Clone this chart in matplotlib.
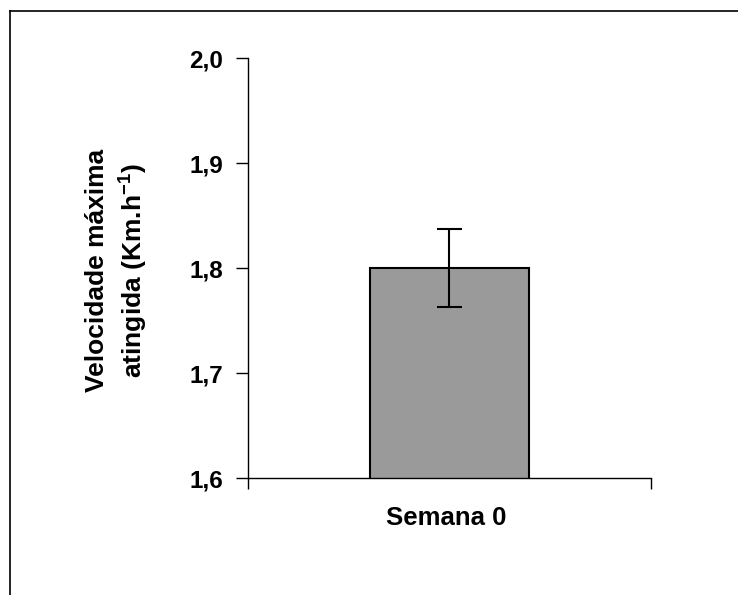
import matplotlib
matplotlib.use("Agg")
import matplotlib.pyplot as plt
from matplotlib.lines import Line2D

plt.rcParams["font.family"] = ["Liberation Sans", "DejaVu Sans"]
plt.rcParams["font.weight"] = "bold"
plt.rcParams["mathtext.fontset"] = "custom"
plt.rcParams["mathtext.rm"] = "Liberation Sans:bold"
plt.rcParams["mathtext.bf"] = "Liberation Sans:bold"

categories = ["Semana 0"]
means = [1.80]
errors = [0.037]
yticks = [1.6, 1.7, 1.8, 1.9, 2.0]
ytick_labels = ["1,6", "1,7", "1,8", "1,9", "2,0"]

fig = plt.figure(figsize=(7.38, 5.95), dpi=100)
ax = fig.add_axes([0.336, 0.1966, 0.546, 0.7059])

ax.bar([0], means, width=0.395, bottom=0, color="#9a9a9a", edgecolor="black", lw=1.5, zorder=2)
ax.errorbar([0], means, yerr=errors, fmt="none", ecolor="black", elinewidth=1.5, capsize=9, capthick=1.5, zorder=3)

ax.set_xlim(-0.5, 0.5)
ax.set_ylim(1.6, 2.0)
ax.set_yticks(yticks)
ax.set_yticklabels(ytick_labels, fontsize=17.5, fontweight="bold")
ax.tick_params(axis="y", direction="out", length=9, width=1, pad=9)
ax.set_xticks([-0.5, 0.5])
ax.set_xticklabels([])
ax.tick_params(axis="x", direction="out", length=8, width=1)
for s in ["top", "right"]:
    ax.spines[s].set_visible(False)
for s in ["left", "bottom"]:
    ax.spines[s].set_linewidth(1)

fig.text(0.605, 0.129, categories[0], ha="center", va="center", fontsize=18.5, fontweight="bold")
fig.text(0.131, 0.545, "Velocidade máxima", rotation=90, ha="center", va="center", fontsize=19, fontweight="bold")
fig.text(0.180, 0.545, r"atingida (Km.h$^{-1}$)", rotation=90, ha="center", va="center", fontsize=19, fontweight="bold")

# outer frame (only left and top edges fall inside the picture)
fig.add_artist(Line2D([9.5 / 738, 9.5 / 738], [0, 1 - 11 / 595], transform=fig.transFigure, color="black", lw=1.2))
fig.add_artist(Line2D([9.5 / 738, 1], [1 - 11 / 595, 1 - 11 / 595], transform=fig.transFigure, color="black", lw=1.2))

fig.savefig("out.png", dpi=100)
